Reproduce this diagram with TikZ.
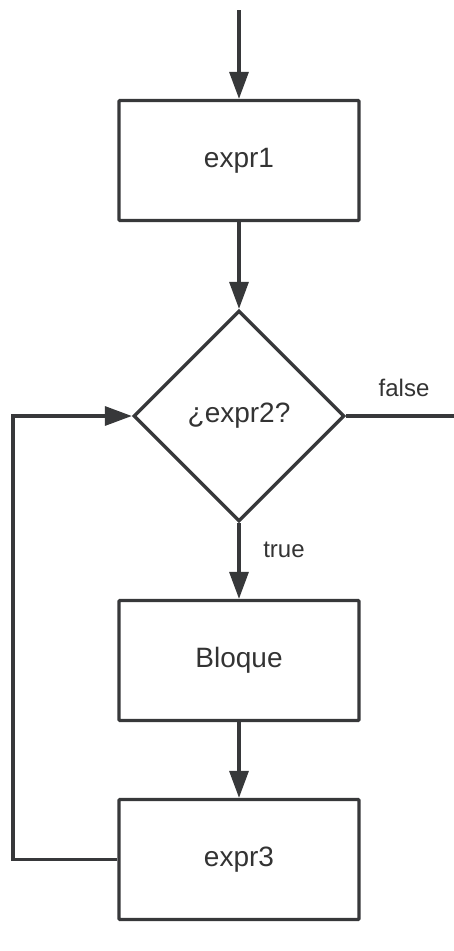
\documentclass[tikz,border=0pt]{standalone}
\usepackage{fontspec}
\setmainfont{Liberation Sans}
\usetikzlibrary{shapes.geometric,arrows.meta}
\definecolor{ink}{HTML}{37383A}
\definecolor{txt}{HTML}{333333}
\tikzset{
  boxnode/.style={draw=ink, line width=3.3pt, rectangle, rounded corners=1pt, minimum width=240pt, minimum height=120pt, inner sep=0pt, text=txt, font=\fontsize{28}{32}\selectfont},
  decnode/.style={draw=ink, line width=3.3pt, diamond, aspect=1, minimum width=211pt, minimum height=211pt, inner sep=0pt, text=txt, font=\fontsize{28}{32}\selectfont},
  conn/.style={draw=ink, line width=3.3pt},
  arr/.style={conn, -{Triangle[length=27pt,width=19pt]}},
  lbl/.style={text=txt, font=\fontsize{24}{28}\selectfont, inner sep=0pt}
}
\begin{document}
\begin{tikzpicture}[x=1pt,y=-1pt]
\useasboundingbox (0,0) rectangle (454,951);
\coordinate (start) at (239,10);
\node[boxnode] (e1) at (239,160.5) {expr1};
\node[decnode] (d) at (239,416) {¿expr2?};
\node[boxnode] (b) at (239,660.5) {Bloque};
\node[boxnode] (e3) at (239,859.5) {expr3};
\coordinate (fend) at (456,416);
\coordinate (lp) at (13,859.5);
\draw[arr] (start) -- (e1);
\draw[arr] (e1) -- (d);
\draw[arr] (d) -- (b);
\draw[conn] (d.east) -- (fend);
\draw[arr] (b) -- (e3);
\draw[arr] (e3.west) -- (lp) |- (d.west);
\node[lbl] (tl) at (284,550) {true};
\node[lbl] (fl) at (404,388) {false};
\end{tikzpicture}
\end{document}
